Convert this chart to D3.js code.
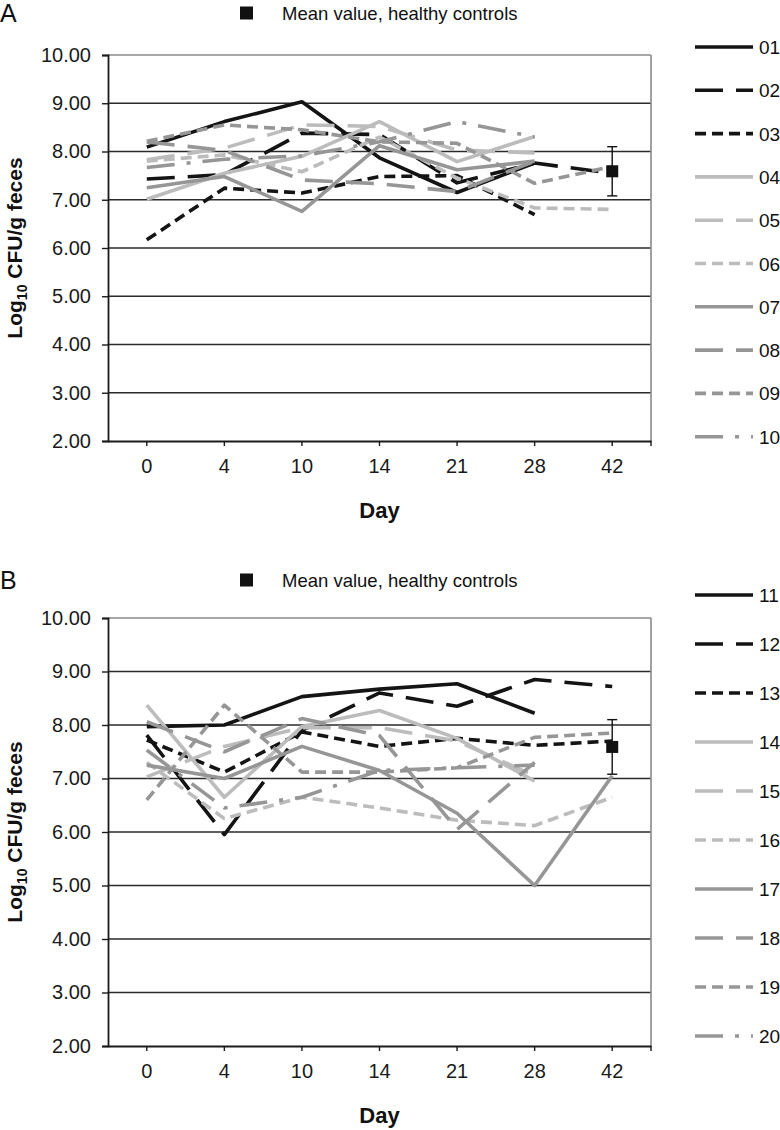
<!DOCTYPE html>
<html><head><meta charset="utf-8">
<script src="https://cdn.jsdelivr.net/npm/d3@7"></script>
<style>
html,body{margin:0;padding:0;background:#fff;}
svg{display:block;font-family:"Liberation Sans",Arial,Helvetica,sans-serif;}
</style></head>
<body><svg id="c" width="780" height="1130"></svg>
<script>
// ---------- data ----------
const days = ["0","4","10","14","21","28","42"];
const yTicks = [2,3,4,5,6,7,8,9,10];
const namesA = ["01","02","03","04","05","06","07","08","09","10"];
const namesB = ["11","12","13","14","15","16","17","18","19","20"];
// panel A (Log10 CFU/g feces per day; null = no sample)
const p01 = [8.09, 8.62, 9.03, 7.87, 7.15, 7.76, null];
const p02 = [7.43, 7.52, 8.38, 8.35, 7.35, 7.76, 7.55];
const p03 = [6.17, 7.24, 7.14, 7.48, 7.50, 6.69, null];
const p04 = [7.01, 7.55, 7.90, 8.62, 7.79, 8.31, null];
const p05 = [7.83, 8.07, 8.55, 8.52, 8.03, 7.97, null];
const p06 = [7.80, 7.93, 7.58, 8.30, 7.45, 6.83, 6.80];
const p07 = [7.25, 7.48, 6.76, 8.12, 7.62, 7.80, null];
const p08 = [8.20, 8.02, 7.41, 7.33, 7.17, 7.80, null];
const p09 = [8.21, 8.55, 8.45, 8.20, 8.17, 7.34, 7.69];
const p10 = [7.67, 7.84, 7.91, 8.20, 8.62, 8.30, null];
// panel B
const p11 = [7.97, 8.00, 8.53, 8.67, 8.77, 8.22, null];
const p12 = [7.81, 5.95, 7.90, 8.60, 8.35, 8.85, 8.72];
const p13 = [7.72, 7.12, 7.87, 7.60, 7.75, 7.62, 7.70];
const p14 = [8.37, 6.65, 7.97, 8.27, 7.75, 6.95, null];
const p15 = [7.03, 7.60, 7.95, 7.95, 7.70, 7.05, null];
const p16 = [7.30, 6.25, 6.65, 6.45, 6.22, 6.12, 6.65];
const p17 = [7.25, 7.00, 7.60, 7.15, 6.35, 5.00, 7.05];
const p18 = [8.06, 7.50, 8.12, 7.80, 6.05, 7.30, null];
const p19 = [6.60, 8.37, 7.12, 7.12, 7.20, 7.77, 7.85];
const p20 = [7.53, 6.45, 6.65, 7.15, 7.20, 7.25, null];
const seriesA = [p01,p02,p03,p04,p05,p06,p07,p08,p09,p10];
const seriesB = [p11,p12,p13,p14,p15,p16,p17,p18,p19,p20];
// healthy controls mean at day 42 with error bar
const meanDay = "42";
const meanValue = [7.59];
const meanLow = [7.08];
const meanHigh = [8.10];

// ---------- styles ----------
const BLACK="#141414", LIGHT="#bcbcbc", MID="#969696";
const styles = [
  {c:BLACK, d:null}, {c:BLACK, d:"28,13"}, {c:BLACK, d:"11,6"},
  {c:LIGHT, d:null}, {c:LIGHT, d:"28,13"}, {c:LIGHT, d:"11,6"},
  {c:MID, d:null},   {c:MID, d:"28,13"},   {c:MID, d:"11,6"},
  {c:MID, d:"28,12,4,12"}
];
const svg = d3.select("#c");

function drawPanel(letter, names, series, cfg){
  const g = svg.append("g");
  const x = d3.scaleBand().domain(days).range([cfg.left, cfg.right]);
  const y = d3.scaleLinear().domain([2,10]).range([cfg.bottom, cfg.top]);

  // panel letter
  g.append("text").attr("x",0).attr("y",cfg.legendY+9).attr("font-size",25).attr("fill","#111").text(letter);
  // mean legend
  g.append("rect").attr("x",240).attr("y",cfg.legendY-6.5).attr("width",13).attr("height",13).attr("fill","#111");
  g.append("text").attr("x",282).attr("y",cfg.legendY+7).attr("font-size",18.5).attr("fill","#111").text("Mean value, healthy controls");

  // grid lines
  g.selectAll(".grid").data(yTicks.filter(d=>d>2 && d<10)).join("line")
    .attr("x1",cfg.left).attr("x2",cfg.right)
    .attr("y1",d=>y(d)).attr("y2",d=>y(d))
    .attr("stroke","#2a2a2a").attr("stroke-width",1.4);
  // plot border top/right (gray)
  g.append("line").attr("x1",cfg.left).attr("x2",cfg.right).attr("y1",y(10)).attr("y2",y(10)).attr("stroke","#8a8a8a").attr("stroke-width",1.6);
  g.append("line").attr("x1",cfg.right).attr("x2",cfg.right).attr("y1",y(10)).attr("y2",y(2)).attr("stroke","#8a8a8a").attr("stroke-width",1.6);

  // y axis
  const ya = g.append("g").attr("transform",`translate(${cfg.left},0)`)
    .call(d3.axisLeft(y).tickValues(yTicks).tickFormat(d3.format(".2f")).tickSize(6).tickPadding(11));
  ya.select(".domain").attr("stroke","#1a1a1a").attr("stroke-width",1.8);
  ya.selectAll(".tick line").attr("stroke","#1a1a1a").attr("stroke-width",1.4);
  ya.selectAll("text").attr("font-size",20).attr("fill","#1a1a1a").attr("font-family","Liberation Sans, Arial, sans-serif");

  // x axis
  const xa = g.append("g").attr("transform",`translate(0,${cfg.bottom})`)
    .call(d3.axisBottom(x).tickSize(5).tickPadding(13).tickSizeOuter(0));
  xa.select(".domain").attr("stroke","#1a1a1a").attr("stroke-width",1.8);
  xa.selectAll(".tick line").attr("stroke","#1a1a1a").attr("stroke-width",1.4);
  xa.selectAll("text").attr("font-size",20).attr("fill","#1a1a1a").attr("font-family","Liberation Sans, Arial, sans-serif");
  xa.append("line").attr("x1",cfg.right).attr("x2",cfg.right).attr("y1",0).attr("y2",5).attr("stroke","#1a1a1a").attr("stroke-width",1.4);

  // axis titles
  g.append("text").attr("x",(cfg.left+cfg.right)/2).attr("y",cfg.bottom+77)
    .attr("text-anchor","middle").attr("font-size",22).attr("font-weight","bold").attr("fill","#111").text("Day");
  const yt = g.append("text").attr("transform",`translate(22,${(cfg.top+cfg.bottom)/2}) rotate(-90)`)
    .attr("text-anchor","middle").attr("font-size",21).attr("font-weight","bold").attr("fill","#111");
  yt.append("tspan").text("Log");
  yt.append("tspan").attr("font-size",14).attr("dy",5).text("10");
  yt.append("tspan").attr("dy",-5).text(" CFU/g feces");

  // lines
  const line = d3.line().defined(d=>d.v!=null).x(d=>x(d.day)+x.bandwidth()/2).y(d=>y(d.v));
  series.forEach((s,i)=>{
    const pts = s.map((v,j)=>({day:days[j], v}));
    g.append("path").attr("d",line(pts)).attr("fill","none")
      .attr("stroke",styles[i].c).attr("stroke-width",3.6)
      .attr("stroke-dasharray",styles[i].d).attr("stroke-linejoin","round");
  });

  // mean with error bar
  const mx = x(meanDay)+x.bandwidth()/2;
  g.append("line").attr("x1",mx).attr("x2",mx).attr("y1",y(meanHigh[0])).attr("y2",y(meanLow[0])).attr("stroke","#111").attr("stroke-width",1.4);
  [meanHigh[0],meanLow[0]].forEach(v=>g.append("line").attr("x1",mx-5).attr("x2",mx+5).attr("y1",y(v)).attr("y2",y(v)).attr("stroke","#111").attr("stroke-width",1.4));
  g.append("rect").attr("x",mx-6).attr("y",y(meanValue[0])-6).attr("width",12).attr("height",12).attr("fill","#111");

  // series legend
  names.forEach((n,i)=>{
    const ly = cfg.legTop + i*cfg.legStep;
    g.append("line").attr("x1",695).attr("x2",753).attr("y1",ly).attr("y2",ly)
      .attr("stroke",styles[i].c).attr("stroke-width",3.6).attr("stroke-dasharray",styles[i].d);
    g.append("text").attr("x",759).attr("y",ly+7).attr("font-size",19).attr("fill","#111").text(n);
  });
}

drawPanel("A", namesA, seriesA, {left:108,right:651,top:55,bottom:441,legendY:13,legTop:47,legStep:43.3});
drawPanel("B", namesB, seriesB, {left:108,right:651,top:618,bottom:1046,legendY:580,legTop:595,legStep:49});
</script></body></html>
